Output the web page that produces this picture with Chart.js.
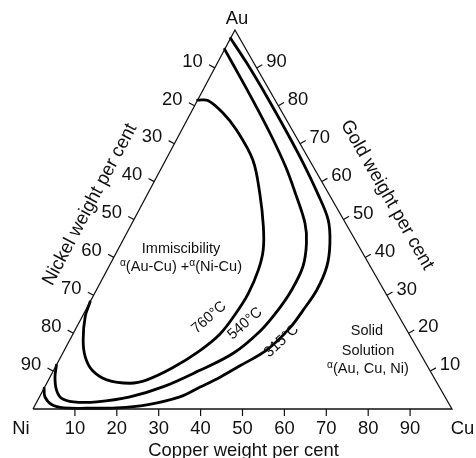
<!DOCTYPE html>
<html>
<head>
<meta charset="utf-8">
<script src="https://cdn.jsdelivr.net/npm/chart.js@4.4.0/dist/chart.umd.min.js"></script>
<style>
  html, body { margin: 0; padding: 0; background: #fff; }
  canvas { display: block; }
</style>
</head>
<body>
<canvas id="ternary" width="476" height="458"></canvas>
<script>
const tickValues = [10, 20, 30, 40, 50, 60, 70, 80, 90];
const cornerNames = ["Ni", "Cu", "Au"];
const axisTitles = ["Copper weight per cent", "Nickel weight per cent", "Gold weight per cent"];
const isothermLabels = ["760°C", "540°C", "315°C"];

// [copper %, gold %] along each isotherm, nickel makes up the rest
const iso760 = [[0, 28.3], [0.7, 24.4], [3.2, 18.2], [5.8, 13.8], [9.1, 10.3], [13.9, 7.7], [19.9, 6.8],
  [23.5, 7.7], [28, 10.8], [32.1, 15], [35.1, 19.8], [36.3, 25.6], [36.7, 30.5], [36.1, 36.7], [34.7, 42],
  [31.8, 48.1], [26.7, 56.9], [20.8, 65.7], [13.1, 73.6], [7.7, 78.1], [2.5, 81.4], [0, 81.5]];
const iso540 = [[0, 11.6], [1.2, 8.4], [3.2, 5], [5.5, 2.8], [8.7, 1.9], [14.3, 1.9], [21.6, 3.2], [28.3, 5.9],
  [34.6, 10], [40.7, 14.7], [44.4, 20.8], [45.9, 26.1], [46.6, 31.4], [46.3, 37.6], [44.2, 43.7], [41.3, 49],
  [35.2, 56.9], [29.5, 63.9], [22.3, 71.9], [14.8, 79.8], [7.1, 87.7], [0, 94.9]];
const iso315 = [[0, 5.5], [1.3, 3.2], [4, 1.1], [7.2, 0.3], [12.7, 0.2], [19.8, 0.3], [26.6, 1.1], [33.5, 3.2],
  [37.1, 5.8], [40.6, 8.4], [43.9, 11.4], [48.3, 15.6], [51, 21.4], [51.9, 26.1], [52.6, 31.4], [52, 37.6],
  [49.8, 43.7], [46.4, 49.9], [40.5, 56.9], [33.2, 64.9], [25.7, 72.7], [16.1, 82.4], [7.1, 91.2], [0, 97.8]];
const triangle = [[0, 0], [100, 0], [0, 100], [0, 0]];

// apex sits a little left of the base midpoint in the original drawing
const SKEW = 0.482;
const toXY = (p) => ({ x: p[0] + p[1] * SKEW, y: p[1] });

const FONT = '"Liberation Sans", Arial, Helvetica, sans-serif';
const INK = "#111";
const SQUEEZE = 0.97;

function label(ctx, str, x, y, size, opts = {}) {
  ctx.save();
  ctx.translate(x, y);
  if (opts.rotate) ctx.rotate(opts.rotate * Math.PI / 180);
  ctx.scale(SQUEEZE, 1);
  ctx.font = size + "px " + FONT;
  ctx.textAlign = opts.align || "center";
  ctx.textBaseline = opts.baseline || "middle";
  ctx.fillStyle = INK;
  ctx.fillText(str, 0, 0);
  ctx.restore();
}

// line of text where some pieces (the alphas) are small and raised
function richLabel(ctx, parts, x, y, size) {
  ctx.save();
  ctx.translate(x, y);
  ctx.scale(SQUEEZE, 1);
  ctx.textAlign = "left";
  ctx.textBaseline = "middle";
  ctx.fillStyle = INK;
  const fontFor = (small) => (small ? size * 0.7 : size) + "px " + FONT;
  let total = 0;
  const widths = parts.map(([s, small]) => {
    ctx.font = fontFor(small);
    const w = ctx.measureText(s).width;
    total += w;
    return w;
  });
  let cx = -total / 2;
  parts.forEach(([s, small], i) => {
    ctx.font = fontFor(small);
    ctx.fillText(s, cx, small ? -4 : 0);
    cx += widths[i];
  });
  ctx.restore();
}

const ternaryDecor = {
  id: "ternaryDecor",
  afterDatasetsDraw(chart) {
    const ctx = chart.ctx;
    const xs = chart.scales.x, ys = chart.scales.y;
    const px = (cu, au) => {
      const p = toXY([cu, au]);
      return [xs.getPixelForValue(p.x), ys.getPixelForValue(p.y)];
    };
    const ni = px(0, 0), cu = px(100, 0), au = px(0, 100);
    const unitNormal = (a, b, sign) => {
      const dx = b[0] - a[0], dy = b[1] - a[1], l = Math.hypot(dx, dy);
      return [sign * dy / l, -sign * dx / l];
    };
    const nLeft = unitNormal(ni, au, 1);
    const nRight = unitNormal(cu, au, -1);
    const tickLen = 6.5;

    ctx.save();
    ctx.strokeStyle = INK;
    ctx.lineWidth = 1.2;
    ctx.beginPath();
    tickValues.forEach((v) => {
      const b = px(v, 0);
      ctx.moveTo(b[0], b[1]);
      ctx.lineTo(b[0], b[1] + 7);
      const l = px(0, 100 - v);
      ctx.moveTo(l[0], l[1]);
      ctx.lineTo(l[0] + nLeft[0] * tickLen, l[1] + nLeft[1] * tickLen);
      const r = px(100 - v, v);
      ctx.moveTo(r[0], r[1]);
      ctx.lineTo(r[0] + nRight[0] * tickLen, r[1] + nRight[1] * tickLen);
    });
    ctx.stroke();
    ctx.restore();

    tickValues.forEach((v) => {
      const b = px(v, 0);
      label(ctx, String(v), b[0], b[1] + 20, 19);
      const l = px(0, 100 - v);
      label(ctx, String(v), l[0] - 12, l[1] - 6.5, 19, { align: "right" });
      const r = px(100 - v, v);
      label(ctx, String(v), r[0] + 9.5, r[1] - 6, 19, { align: "left" });
    });

    // corner element names
    label(ctx, cornerNames[0], ni[0] - 12, ni[1] + 20, 19);
    label(ctx, cornerNames[1], cu[0] + 10.5, cu[1] + 20, 19);
    label(ctx, cornerNames[2], au[0] + 2, au[1] - 11, 19);

    // axis titles
    const leftAngle = Math.atan2(au[1] - ni[1], au[0] - ni[0]) * 180 / Math.PI;
    const rightAngle = Math.atan2(cu[1] - au[1], cu[0] - au[0]) * 180 / Math.PI;
    label(ctx, axisTitles[0], (ni[0] + cu[0]) / 2 + 1, ni[1] + 47, 19, { baseline: "alphabetic" });
    label(ctx, axisTitles[1], (ni[0] + au[0]) / 2 - 44, (ni[1] + au[1]) / 2 - 15, 19, { rotate: leftAngle });
    label(ctx, axisTitles[2], (cu[0] + au[0]) / 2 + 43.5, (cu[1] + au[1]) / 2 - 24.5, 19, { rotate: rightAngle });

    // region notes
    label(ctx, "Immiscibility", 181, 249, 15);
    richLabel(ctx, [["α", true], ["(Au-Cu) +", false], ["α", true], ["(Ni-Cu)", false]], 181, 267, 15);
    label(ctx, "Solid", 367, 331, 15);
    label(ctx, "Solution", 368, 351, 15);
    richLabel(ctx, [["α", true], ["(Au, Cu, Ni)", false]], 368, 369, 15);

    // isotherm temperatures
    label(ctx, isothermLabels[0], 209, 317.5, 15, { rotate: -41 });
    label(ctx, isothermLabels[1], 245, 323.5, 15, { rotate: -41 });
    label(ctx, isothermLabels[2], 281.5, 341, 15, { rotate: -42 });
  }
};

const curveSet = (pts) => ({
  data: pts.map(toXY),
  showLine: true,
  borderColor: "#000",
  borderWidth: 2.8,
  tension: 0.35,
  borderCapStyle: "round",
  borderJoinStyle: "round"
});

new Chart(document.getElementById("ternary"), {
  type: "scatter",
  data: {
    datasets: [
      {
        data: triangle.map(toXY),
        showLine: true,
        borderColor: INK,
        borderWidth: 1.3,
        tension: 0,
        borderJoinStyle: "miter"
      },
      curveSet(iso760),
      curveSet(iso540),
      curveSet(iso315)
    ]
  },
  options: {
    responsive: false,
    animation: false,
    layout: { padding: 0 },
    elements: { point: { radius: 0, hoverRadius: 0 } },
    scales: {
      x: { type: "linear", display: false, min: -7.876, max: 105.728 },
      y: { type: "linear", display: false, min: -12.929, max: 107.916 }
    },
    plugins: { legend: { display: false }, tooltip: { enabled: false } }
  },
  plugins: [ternaryDecor]
});
</script>
</body>
</html>
